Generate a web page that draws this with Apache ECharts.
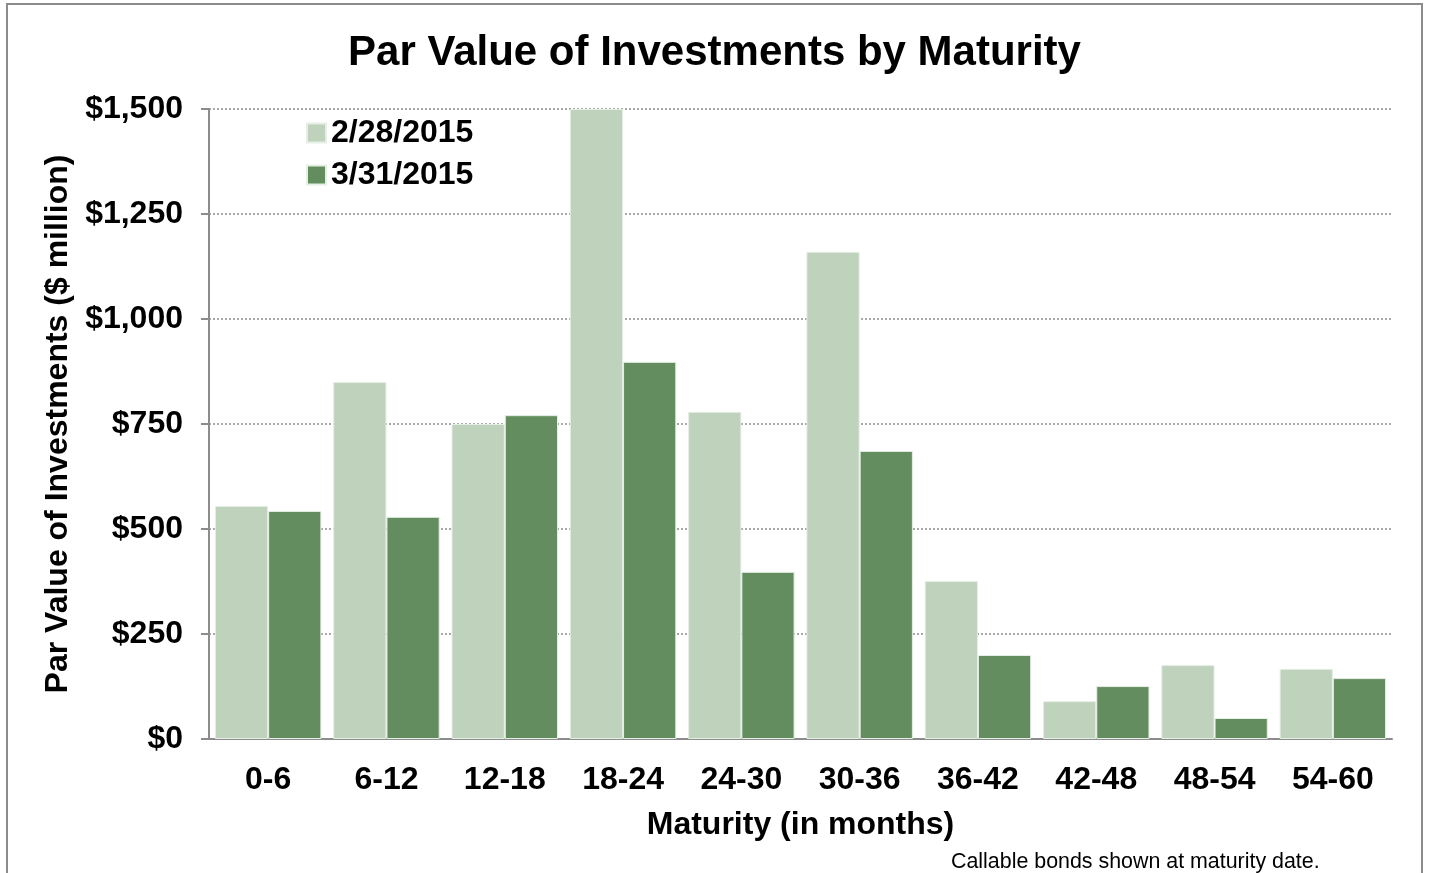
<!DOCTYPE html>
<html>
<head>
<meta charset="utf-8">
<script src="https://cdn.jsdelivr.net/npm/echarts@6/dist/echarts.min.js"></script>
<style>
  html, body { margin: 0; padding: 0; background: #fff; }
  #chart { width: 1429px; height: 873px; }
</style>
</head>
<body>
<div id="chart"></div>
<script>
// maturity buckets (months)
var categories = ["0-6", "6-12", "12-18", "18-24", "24-30", "30-36", "36-42", "42-48", "48-54", "54-60"];
var seriesNames = ["2/28/2015", "3/31/2015"];
// par value, $ million
var feb2015 = [555, 850, 750, 1500, 779, 1160, 376, 90, 176, 167];
var mar2015 = [543, 529, 771, 898, 398, 686, 200, 126, 50, 145];
var yTicks = [0, 250, 500, 750, 1000, 1250, 1500];

var font = "'Liberation Sans', Arial, sans-serif";

var chart = echarts.init(document.getElementById("chart"));
var option = {
  animation: false,
  textStyle: { fontFamily: font },
  title: {
    text: "Par Value of Investments by Maturity",
    left: "center",
    top: 27,
    textStyle: { fontSize: 42, fontWeight: "bold", color: "#000", fontFamily: font }
  },
  legend: {
    orient: "vertical",
    left: 301,
    top: 112,
    itemWidth: 19,
    itemHeight: 19,
    itemGap: 10,
    icon: "rect",
    data: seriesNames,
    textStyle: { fontSize: 32, fontWeight: "bold", color: "#000", fontFamily: font }
  },
  grid: { left: 209, right: 37, top: 109, bottom: 134 },
  xAxis: {
    type: "category",
    data: categories,
    name: "Maturity (in months)",
    nameLocation: "middle",
    nameGap: 70,
    nameTextStyle: { fontSize: 32, fontWeight: "bold", color: "#000", fontFamily: font },
    axisLine: { lineStyle: { color: "#8c8c8c", width: 2 } },
    axisTick: { length: 8, lineStyle: { color: "#8c8c8c", width: 2 } },
    axisLabel: { fontSize: 32, fontWeight: "bold", color: "#000", fontFamily: font, margin: 25 }
  },
  yAxis: {
    type: "value",
    min: 0,
    max: 1500,
    interval: 250,
    name: "Par Value of Investments ($ million)",
    nameLocation: "middle",
    nameGap: 134,
    nameTextStyle: { fontSize: 32, fontWeight: "bold", color: "#000", fontFamily: font },
    axisLine: { show: true, lineStyle: { color: "#8c8c8c", width: 2 } },
    axisTick: { show: true, length: 8, lineStyle: { color: "#8c8c8c", width: 2 } },
    axisLabel: {
      fontSize: 32, fontWeight: "bold", color: "#000", fontFamily: font, margin: 26,
      formatter: function (v) {
        return "$" + v.toString().replace(/\B(?=(\d{3})+(?!\d))/g, ",");
      }
    },
    splitLine: { lineStyle: { color: "#8c8c8c", type: [2, 2], width: 1.5 } }
  },
  series: [
    {
      name: seriesNames[0],
      type: "bar",
      data: feb2015,
      barGap: "0%",
      barCategoryGap: "10%",
      itemStyle: { color: "#bed2bc", borderColor: "#e6efe5", borderWidth: 1 }
    },
    {
      name: seriesNames[1],
      type: "bar",
      data: mar2015,
      itemStyle: { color: "#638d5f", borderColor: "#e6efe5", borderWidth: 1 }
    }
  ],
  graphic: [
    {
      type: "rect",
      shape: { x: 7, y: 4, width: 1415, height: 880 },
      style: { fill: "none", stroke: "#8c8c8c", lineWidth: 2 },
      silent: true
    },
    {
      type: "text",
      left: 951,
      top: 852,
      style: { text: "Callable bonds shown at maturity date.", fill: "#000", font: "21.4px " + font }
    }
  ]
};
chart.setOption(option);
</script>
</body>
</html>
